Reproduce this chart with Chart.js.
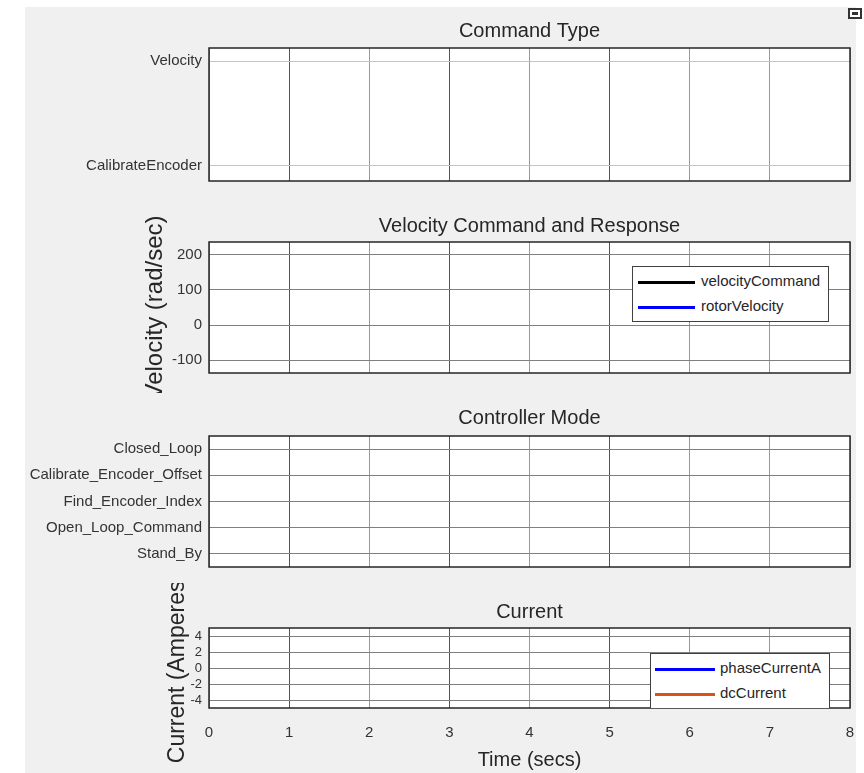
<!DOCTYPE html>
<html>
<head>
<meta charset="utf-8">
<title>Motor Control Scope</title>
<script src="https://cdn.jsdelivr.net/npm/chart.js@4.4.1/dist/chart.umd.min.js"></script>
<style>
    body { margin: 0; background: #fff; width: 864px; height: 773px; overflow: hidden; font-family: "Liberation Sans", Arial, sans-serif; }
    #fig { position: absolute; left: 25px; top: 7px; width: 831px; height: 766px; background: #f0f0f0; }
    canvas { position: absolute; left: 0; }
    .legend { position: absolute; background: #fff; border: 1px solid #404040; box-sizing: border-box; overflow: hidden; font-size: 15px; color: #262626; }
    .legend .item { position: absolute; height: 18px; line-height: 18px; white-space: nowrap; }
    .legend .swatch { display: inline-block; height: 3px; vertical-align: middle; }
    #undock { position: absolute; left: 848px; top: 8px; width: 10px; height: 7px; border: 2px solid #333; background: #fff; }
    #undock div { position: absolute; left: 2px; top: 2px; width: 6px; height: 3px; background: #333; }
</style>
</head>
<body>
<div id="fig"></div>
<div id="undock"><div></div></div>
<canvas id="commandTypeChart" width="856" height="190" style="top:7px"></canvas>
<canvas id="velocityChart" width="856" height="193" style="top:200px"></canvas>
<canvas id="modeChart" width="856" height="190" style="top:395px"></canvas>
<canvas id="currentChart" width="856" height="190" style="top:583px"></canvas>
<div id="velocityLegend" class="legend" style="left:632px;top:266px;width:197px;height:56px"></div>
<div id="currentLegend" class="legend" style="left:650px;top:653px;width:180px;height:55px;border-bottom:none"></div>

<script>
// axes / tick labels
var timeTicks = [0, 1, 2, 3, 4, 5, 6, 7, 8];
var commandTypes = ['CalibrateEncoder', 'Velocity'];
var controllerModes = ['Stand_By', 'Open_Loop_Command', 'Find_Encoder_Index', 'Calibrate_Encoder_Offset', 'Closed_Loop'];
var velocityTicks = [-100, 0, 100, 200];
var currentTicks = [-4, -2, 0, 2, 4];

// logged signals (nothing recorded yet, the scope is empty)
var commandType = [];
var velocityCommand = [];
var rotorVelocity = [];
var controllerMode = [];
var phaseCurrentA = [];
var dcCurrent = [];

var FONT = '"Liberation Sans", Arial, sans-serif';
Chart.defaults.font.family = FONT;

// white plot background + black box around each axes
var axesBox = {
    id: 'axesBox',
    beforeDraw: function (chart) {
        var a = chart.chartArea, ctx = chart.ctx;
        ctx.save();
        ctx.fillStyle = '#fff';
        ctx.fillRect(a.left, a.top, a.right - a.left, a.bottom - a.top);
        ctx.restore();
    },
    afterDraw: function (chart) {
        var a = chart.chartArea, ctx = chart.ctx;
        ctx.save();
        ctx.strokeStyle = '#262626';
        ctx.lineWidth = 1.5;
        ctx.strokeRect(a.left, a.top, a.right - a.left, a.bottom - a.top);
        ctx.restore();
    }
};

function tickList(values) {
    return function (scale) {
        scale.ticks = values.map(function (v) { return { value: v }; });
    };
}

function xGridColor(ctx) {
    if (!ctx.tick) return '#999';
    return (ctx.tick.value % 2 === 1 && ctx.tick.value < 6) ? '#555' : '#999';
}

function buildChart(canvasId, cfg) {
    var canvas = document.getElementById(canvasId);
    return new Chart(canvas, {
        type: 'line',
        data: { datasets: cfg.datasets },
        options: {
            responsive: false,
            animation: false,
            layout: { padding: { left: 0, right: 6, top: 0, bottom: 0 } },
            plugins: {
                legend: { display: false },
                tooltip: { enabled: false },
                title: {
                    display: true,
                    fullSize: false,
                    text: cfg.title,
                    color: '#262626',
                    font: { size: 20, weight: 'normal' },
                    padding: { top: cfg.titleTop, bottom: cfg.titleBottom }
                }
            },
            scales: {
                x: {
                    type: 'linear',
                    min: 0,
                    max: 8,
                    afterBuildTicks: tickList(timeTicks),
                    afterFit: function (s) {
                        s.height = cfg.xHeight;
                        s.paddingLeft = 0;
                        s.paddingRight = 0;
                    },
                    grid: { color: xGridColor, drawTicks: false },
                    border: { display: false },
                    ticks: { display: !!cfg.showTime, padding: 16, color: '#333', font: { size: 15 } },
                    title: {
                        display: !!cfg.showTime,
                        text: 'Time (secs)',
                        color: '#262626',
                        font: { size: 20 },
                        padding: { top: 0, bottom: 1 }
                    }
                },
                y: {
                    type: 'linear',
                    min: cfg.yMin,
                    max: cfg.yMax,
                    afterBuildTicks: tickList(cfg.yTicks),
                    afterFit: function (s) { s.width = 209; },
                    grid: { color: cfg.yGrid, drawTicks: false },
                    border: { display: false },
                    ticks: {
                        autoSkip: false,
                        padding: 7,
                        color: '#333',
                        font: { size: cfg.yTickSize || 15 },
                        callback: cfg.yLabel || function (v) { return v; }
                    },
                    title: {
                        display: !!cfg.yTitle,
                        text: cfg.yTitle,
                        color: '#262626',
                        font: { size: cfg.yTitleSize || 24 },
                        padding: { top: cfg.yTitlePad || 0, bottom: 0 }
                    }
                }
            }
        },
        plugins: [axesBox]
    });
}

function buildLegend(divId, chart, opt) {
    var box = document.getElementById(divId);
    chart.data.datasets.forEach(function (ds, i) {
        var item = document.createElement('div');
        item.className = 'item';
        item.style.left = opt.left + 'px';
        item.style.top = (opt.top + i * 25) + 'px';
        item.innerHTML = '<span class="swatch" style="width:' + opt.swatch + 'px;margin-right:' + opt.gap +
            'px;background:' + ds.borderColor + '"></span>' + ds.label;
        box.appendChild(item);
    });
}

var commandChart = buildChart('commandTypeChart', {
    title: 'Command Type',
    titleTop: 12, titleBottom: 5,
    xHeight: 16,
    yMin: -0.143, yMax: 1.124,
    yTicks: [0, 1],
    yGrid: '#c4c4c4',
    yLabel: function (v) { return commandTypes[v]; },
    datasets: [{ label: 'commandType', data: commandType, borderColor: '#0072BD', borderWidth: 2, pointRadius: 0 }]
});

var velocityChart = buildChart('velocityChart', {
    title: 'Velocity Command and Response',
    titleTop: 14, titleBottom: 4,
    xHeight: 20,
    yMin: -137, yMax: 237,
    yTicks: velocityTicks,
    yGrid: '#808080',
    yTitle: 'Velocity (rad/sec)',
    yTitlePad: 141,
    datasets: [
        { label: 'velocityCommand', data: velocityCommand, borderColor: '#000000', borderWidth: 2, pointRadius: 0 },
        { label: 'rotorVelocity', data: rotorVelocity, borderColor: '#0000FF', borderWidth: 2, pointRadius: 0 }
    ]
});

var modeChart = buildChart('modeChart', {
    title: 'Controller Mode',
    titleTop: 11, titleBottom: 6,
    xHeight: 18,
    yMin: -0.5, yMax: 4.5,
    yTicks: [0, 1, 2, 3, 4],
    yGrid: '#808080',
    yLabel: function (v) { return controllerModes[v]; },
    datasets: [{ label: 'controllerMode', data: controllerMode, borderColor: '#0072BD', borderWidth: 2, pointRadius: 0 }]
});

var currentChart = buildChart('currentChart', {
    title: 'Current',
    titleTop: 17, titleBottom: 4,
    xHeight: 65,
    showTime: true,
    yMin: -4.9, yMax: 5.1,
    yTicks: currentTicks,
    yTickSize: 13,
    yGrid: '#808080',
    yTitle: 'Current (Amperes)',
    yTitleSize: 23,
    yTitlePad: 164,
    datasets: [
        { label: 'phaseCurrentA', data: phaseCurrentA, borderColor: '#0000FF', borderWidth: 2, pointRadius: 0 },
        { label: 'dcCurrent', data: dcCurrent, borderColor: '#D95319', borderWidth: 2, pointRadius: 0 }
    ]
});

buildLegend('velocityLegend', velocityChart, { left: 5, top: 5, swatch: 57, gap: 6 });
buildLegend('currentLegend', currentChart, { left: 4, top: 5, swatch: 60, gap: 5 });
</script>
</body>
</html>
